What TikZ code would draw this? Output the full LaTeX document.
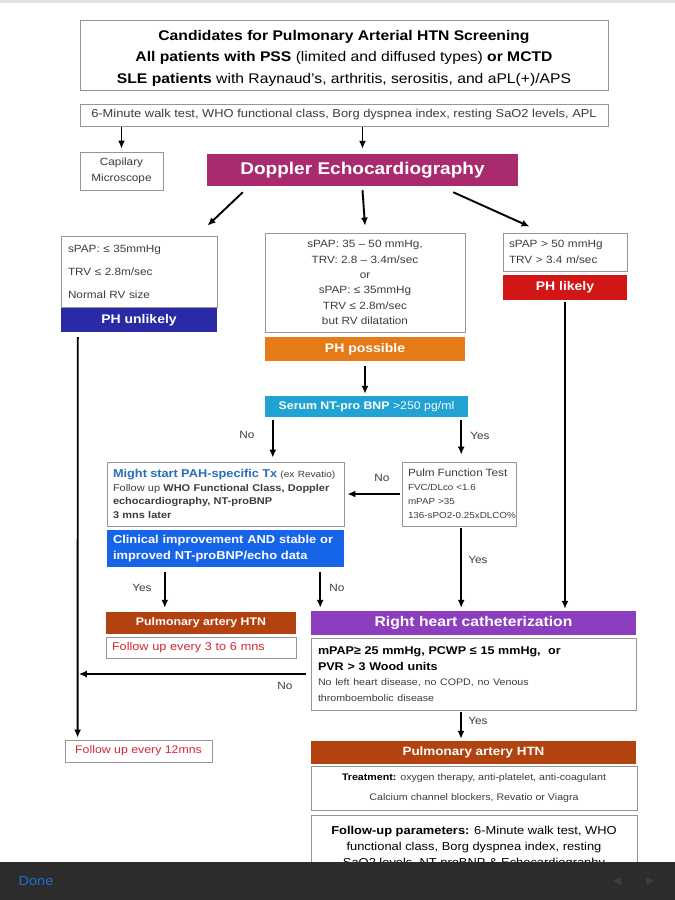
\documentclass[tikz,border=0pt]{standalone}
\usepackage{fontspec}
\setmainfont{Liberation Sans}[FakeStretch=1.12]
\usetikzlibrary{arrows.meta,calc}
\definecolor{boxgray}{RGB}{150,150,150}
\definecolor{txtgray}{RGB}{60,60,60}
\definecolor{doppc}{RGB}{170,42,110}
\definecolor{unlc}{RGB}{42,42,165}
\definecolor{posc}{RGB}{230,122,22}
\definecolor{likc}{RGB}{210,22,22}
\definecolor{serc}{RGB}{32,162,210}
\definecolor{clinc}{RGB}{22,100,232}
\definecolor{pahc}{RGB}{178,66,16}
\definecolor{rhcc}{RGB}{140,62,190}
\definecolor{mightc}{RGB}{40,110,185}
\definecolor{redt}{RGB}{212,40,52}
\definecolor{barc}{RGB}{44,44,44}
\definecolor{donec}{RGB}{30,110,210}
\begin{document}
\begin{tikzpicture}[x=1pt,y=-1pt,
  box/.style={draw=boxgray, line width=0.8pt, fill=white, inner sep=0pt, text=txtgray},
  bar/.style={inner sep=0pt, text=white, font=\bfseries},
  arr/.style={line width=1.9pt, -{Latex[length=8pt,width=7pt]}},
  lab/.style={text=txtgray, font=\fontsize{10.5}{12}\selectfont, inner sep=0pt}]
\useasboundingbox (0,0) rectangle (675,900);
\fill[white] (0,0) rectangle (675,900);
\fill[gray!22] (0,0) rectangle (675,3);

% top boxes
\node[box, text=black, minimum width=528pt, minimum height=70pt, align=center,
  font=\fontsize{14}{21.5}\selectfont] (title) at (344,55)
  {\rule{0pt}{16pt}\textbf{Candidates for Pulmonary Arterial HTN Screening}\\
   \textbf{All patients with PSS} (limited and diffused types) \textbf{or MCTD}\\
   \textbf{SLE patients} with Raynaud's, arthritis, serositis, and aPL(+)/APS};
\node[box, minimum width=528pt, minimum height=22pt, font=\fontsize{11.5}{13}\selectfont] (walk) at (344,115)
  {6-Minute walk test, WHO functional class, Borg dyspnea index, resting SaO2 levels, APL};
\node[box, minimum width=83pt, minimum height=38pt, align=center, font=\fontsize{10.5}{16}\selectfont] (cap) at (121.5,171)
  {Capilary\\Microscope};
\node[bar, fill=doppc, minimum width=311pt, minimum height=32pt, font=\fontsize{17}{20}\bfseries] (dopp) at (362.5,170)
  {Doppler Echocardiography};

% echo results
\node[box, minimum width=156pt, minimum height=71pt, text width=142pt, align=left, font=\fontsize{10.5}{23}\selectfont] (lowbox) at (139,271.5)
  {sPAP: ≤ 35mmHg\\TRV ≤ 2.8m/sec\\Normal RV size};
\node[bar, fill=unlc, minimum width=156pt, minimum height=24pt, font=\fontsize{12.5}{14}\bfseries] (unlikely) at (139,320)
  {PH unlikely};
\node[box, minimum width=200pt, minimum height=99pt, align=center, font=\fontsize{10.5}{15.4}\selectfont] (midbox) at (365,282.5)
  {sPAP: 35 – 50 mmHg,\\TRV: 2.8 – 3.4m/sec\\or\\sPAP: ≤ 35mmHg\\TRV ≤ 2.8m/sec\\but RV dilatation};
\node[bar, fill=posc, minimum width=200pt, minimum height=24pt, font=\fontsize{12.5}{14}\bfseries] (possible) at (365,349)
  {PH possible};
\node[box, minimum width=124pt, minimum height=38pt, text width=112pt, align=left, font=\fontsize{10.5}{16}\selectfont] (hibox) at (565,252)
  {sPAP > 50 mmHg\\TRV > 3.4 m/sec};
\node[bar, fill=likc, minimum width=124pt, minimum height=25pt, font=\fontsize{12.5}{14}\bfseries] (likely) at (565,287.5)
  {PH likely};

% serum
\node[bar, fill=serc, minimum width=203pt, minimum height=21pt, font=\fontsize{11}{12}\selectfont] (serum) at (366.5,406.5)
  {\textbf{Serum NT-pro BNP} >250 pg/ml};

\node[box, minimum width=237pt, minimum height=64pt, text width=225pt, align=left, font=\fontsize{9.8}{13.4}\selectfont] (might) at (225.5,494)
  {\mbox{{\color{mightc}\fontsize{11.4}{13.4}\selectfont\bfseries Might start PAH-specific Tx} {\fontsize{9}{13.4}\selectfont (ex Revatio)}}\\
   \mbox{Follow up \textbf{WHO Functional Class, Doppler}}\\
   \textbf{echocardiography, NT-proBNP}\\
   \textbf{3 mns later}};
\node[box, minimum width=114pt, minimum height=64pt, text width=102pt, align=left, font=\fontsize{8.8}{14}\selectfont] (pulm) at (459,494)
  {{\fontsize{10.5}{14}\selectfont Pulm Function Test}\\FVC/DLco <1.6\\mPAP >35\\\mbox{136-sPO2-0.25xDLCO\%}};
\node[bar, fill=clinc, minimum width=237pt, minimum height=37pt, text width=225pt, align=left, font=\fontsize{11.5}{16}\bfseries] (clin) at (225.5,548.5)
  {Clinical improvement AND stable or\\improved NT-proBNP/echo data};

% lower left
\node[bar, fill=pahc, minimum width=190pt, minimum height=22pt, font=\fontsize{11}{13}\bfseries] (pahL) at (201,623)
  {Pulmonary artery HTN};
\node[box, text=redt, minimum width=190pt, minimum height=21pt, text width=178pt, align=left, font=\fontsize{11.3}{13}\selectfont] (fu36) at (201,647.5)
  {Follow up every 3 to 6 mns};

% RHC
\node[bar, fill=rhcc, minimum width=325pt, minimum height=24pt, font=\fontsize{14}{16}\bfseries] (rhc) at (473.5,623)
  {Right heart catheterization};
\node[box, minimum width=325pt, minimum height=72pt, text width=311pt, align=left, font=\fontsize{11.2}{16}\selectfont] (rhcd) at (473.5,674)
  {\textcolor{black}{\textbf{mPAP≥ 25 mmHg, PCWP ≤ 15 mmHg,\ \ or}}\\
   \textcolor{black}{\textbf{PVR > 3 Wood units}}\\[2pt]
   {\fontsize{9.5}{13}\selectfont No left heart disease, no COPD, no Venous\\thromboembolic disease}};

\node[box, text=redt, minimum width=147pt, minimum height=22pt, font=\fontsize{11}{13}\selectfont] (fu12) at (138.5,751)
  {Follow up every 12mns};
\node[bar, fill=pahc, minimum width=325pt, minimum height=23pt, font=\fontsize{12}{14}\bfseries] (pahB) at (473.5,752.5)
  {Pulmonary artery HTN};
\node[box, minimum width=326pt, minimum height=44pt, align=center, font=\fontsize{9.5}{20}\selectfont] (treat) at (474,788)
  {\textcolor{black}{\textbf{Treatment:}} oxygen therapy, anti-platelet, anti-coagulant\\Calcium channel blockers, Revatio or Viagra};
\node[box, text=black, minimum width=326pt, minimum height=60pt, align=center, font=\fontsize{11.5}{16}\selectfont, anchor=north] (fup) at (474,815)
  {\rule{0pt}{12pt}\textbf{Follow-up parameters:} 6-Minute walk test, WHO\\functional class, Borg dyspnea index, resting\\SaO2 levels, NT-proBNP \& Echocardiography};

% connectors
\draw[arr] ([yshift=-1pt]walk.south -| cap.north) -- ([yshift=3pt]cap.north);
\draw[arr] ([yshift=-1pt]walk.south -| dopp.north) -- ([yshift=5pt]dopp.north);
\draw[arr] ([shift={(36,6)}]dopp.south west) -- ([shift={(147,-10)}]lowbox.north west);
\draw[arr] ([yshift=-4pt]dopp.south) -- ([yshift=7pt]midbox.north);
\draw[arr] ([shift={(-65,6)}]dopp.south east) -- ([shift={(27,-6)}]hibox.north west);

\coordinate (vtop) at ([shift={(17,5)}]unlikely.south west);
\coordinate (vbot) at ([shift={(13,-2)}]fu12.north west);
\draw[arr] (vtop) -- (vbot);
\draw[arr] ([yshift=-2pt]likely.south) -- ([yshift=2pt]rhc.north -| likely.south);
\draw[arr] ([yshift=-5pt]possible.south) -- ([yshift=2pt]serum.north -| possible.south);

\coordinate (sno) at ([shift={(8,3)}]serum.south west);
\draw[arr] (sno) -- ([yshift=4pt]might.north -| sno);
\node[lab] at (247,435) {No};
\coordinate (syes) at ([shift={(-7,3)}]serum.south east);
\draw[arr] (syes) -- ([yshift=7pt]pulm.north -| syes);
\node[lab] at (480,436) {Yes};

\draw[arr] ([xshift=-2pt]pulm.west) -- ([xshift=3pt]pulm.west -| might.east);
\node[lab] at (382,478) {No};

\coordinate (cyes) at ([shift={(58,5)}]clin.south west);
\draw[arr] (cyes) -- ([yshift=4pt]pahL.north -| cyes);
\node[lab] at (142,588) {Yes};
\coordinate (cno) at ([shift={(-24,5)}]clin.south east);
\draw[arr] (cno) -- ([yshift=3pt]rhc.north -| cno);
\node[lab] at (337,588) {No};

\draw[arr] ([yshift=-2pt]pulm.south -| syes) -- ([yshift=3pt]rhc.north -| syes);
\node[lab] at (478,560) {Yes};

\draw[arr] ([xshift=-5pt]rhcd.west) -- ([xshift=1pt]rhcd.west -| vtop);
\node[lab] at (285,686) {No};
\draw[arr] ([shift={(-12.5,2)}]rhcd.south) -- ([shift={(-12.5,-2)}]pahB.north);
\node[lab] at (478,721) {Yes};

% bottom toolbar
\fill[barc] (0,862) rectangle (675,900);
\node[text=donec, font=\fontsize{13}{15}\selectfont, inner sep=0pt] (done) at (36,881) {Done};
\fill[gray!22!barc] (613,881) -- (621,877) -- (621,885) -- cycle;
\fill[gray!22!barc] (654,881) -- (646,877) -- (646,885) -- cycle;
\end{tikzpicture}
\end{document}
